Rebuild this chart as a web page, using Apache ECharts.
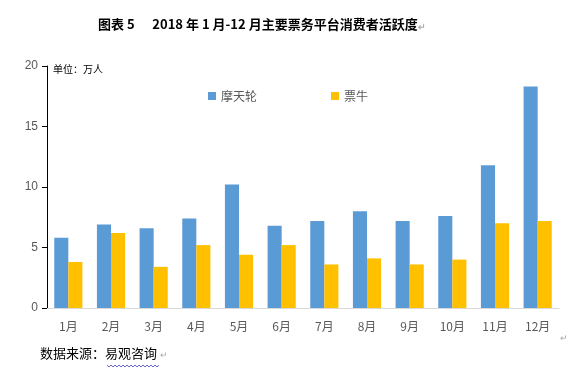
<!DOCTYPE html>
<html>
<head>
<meta charset="utf-8">
<script src="https://cdn.jsdelivr.net/npm/echarts@6/dist/echarts.min.js"></script>
<style>
html,body{margin:0;padding:0;background:#fff;}
#c{width:580px;height:375px;}
</style>
</head>
<body>
<div id="c"></div>
<script>
const categories = ['1月','2月','3月','4月','5月','6月','7月','8月','9月','10月','11月','12月'];
const motianlun = [5.8, 6.9, 6.6, 7.4, 10.2, 6.8, 7.2, 8.0, 7.2, 7.6, 11.8, 18.3];
const piaoniu = [3.8, 6.2, 3.4, 5.2, 4.4, 5.2, 3.6, 4.1, 3.6, 4.0, 7.0, 7.2];
const seriesNames = ['摩天轮', '票牛'];
const yTicks = [0, 5, 10, 15, 20];

const FONT = '"Noto Sans CJK SC", "Microsoft YaHei", sans-serif';
const chart = echarts.init(document.getElementById('c'));
chart.setOption({
  animation: false,
  backgroundColor: '#fff',
  textStyle: { fontFamily: FONT },
  title: {
    text: '{b|图表 5      2018 年 1 月-12 月主要票务平台消费者活跃度}{m|↵}',
    left: 93,
    top: 13,
    textStyle: {
      rich: {
        b: { fontFamily: FONT, fontSize: 13, fontWeight: 'bold', color: '#000' },
        m: { fontFamily: FONT, fontSize: 9, color: '#aaa', padding: [4, 0, 0, 0] }
      }
    }
  },
  legend: {
    data: seriesNames,
    left: 203,
    top: 85,
    itemWidth: 8,
    itemHeight: 8,
    itemGap: 74,
    icon: 'rect',
    textStyle: { color: '#595959', fontSize: 12, fontFamily: FONT }
  },
  grid: { left: 47, right: 21, top: 66, bottom: 67, containLabel: false },
  xAxis: {
    type: 'category',
    data: categories,
    axisLine: { lineStyle: { color: '#d9d9d9', width: 1 } },
    axisTick: { show: false },
    axisLabel: { color: '#595959', fontSize: 12, margin: 12, fontFamily: FONT }
  },
  yAxis: {
    type: 'value',
    min: yTicks[0],
    max: yTicks[yTicks.length - 1],
    interval: yTicks[1] - yTicks[0],
    axisLine: { show: true, lineStyle: { color: '#000', width: 1 } },
    axisTick: { show: true, length: 5, lineStyle: { color: '#000' } },
    splitLine: { show: false },
    axisLabel: { color: '#595959', fontSize: 12, margin: 9, fontFamily: 'Liberation Sans, Arial, sans-serif' }
  },
  series: [
    {
      name: seriesNames[0], type: 'bar', data: motianlun,
      itemStyle: { color: '#5B9BD5' },
      barGap: '0%', barCategoryGap: '34%'
    },
    {
      name: seriesNames[1], type: 'bar', data: piaoniu,
      itemStyle: { color: '#FFC000' },
      barGap: '0%', barCategoryGap: '34%'
    }
  ],
  graphic: [
    { type: 'text', left: 53, top: 64, style: { text: '单位：万人', font: '10px ' + FONT, fill: '#000' } },
    { type: 'text', left: 560, top: 333, style: { text: '↵', font: '9px ' + FONT, fill: '#aaa' } },
    { type: 'text', left: 40, top: 347, style: { text: '数据来源：易观咨询', font: '13px ' + FONT, fill: '#000' } },
    { type: 'text', left: 160, top: 350, style: { text: '↵', font: '9px ' + FONT, fill: '#aaa' } },
    { type: 'polyline', shape: { points: [[107,365],[109,367],[111,365],[113,367],[115,365],[117,367],[119,365],[121,367],[123,365],[125,367],[127,365],[129,367],[131,365],[133,367],[135,365],[137,367],[139,365],[141,367],[143,365],[145,367],[147,365],[149,367],[151,365],[153,367],[155,365],[157,367],[159,365]] }, style: { stroke: '#4040c0', lineWidth: 0.8, fill: null } }
  ]
});
</script>
</body>
</html>
